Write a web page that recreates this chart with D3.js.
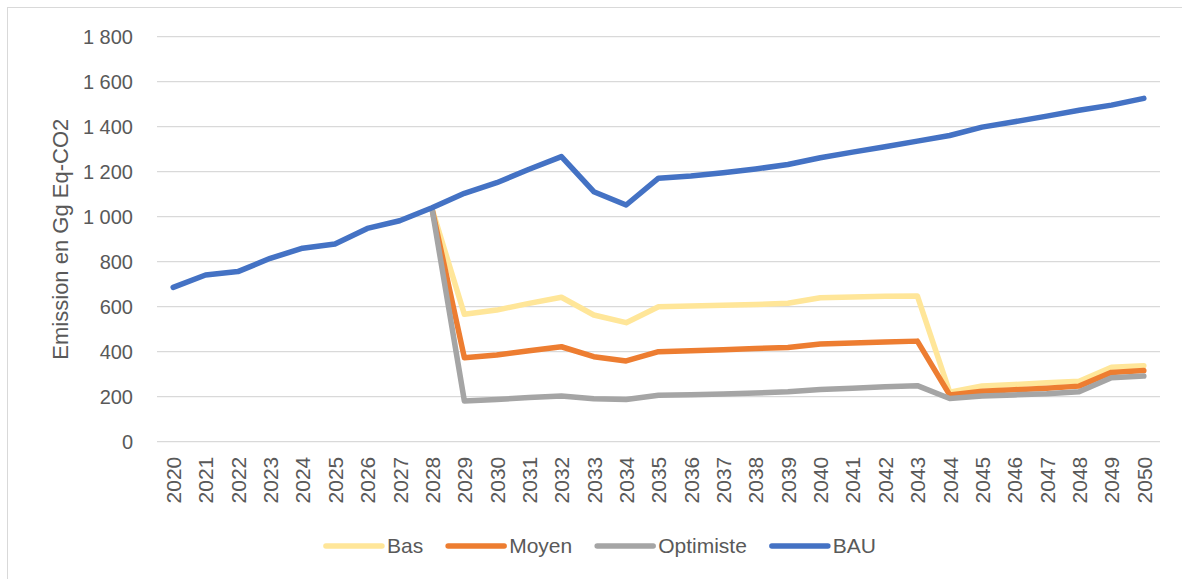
<!DOCTYPE html>
<html>
<head>
<meta charset="utf-8">
<script src="https://cdn.jsdelivr.net/npm/d3@7"></script>
<style>
  html, body { margin: 0; padding: 0; background: #ffffff; }
  svg { display: block; font-family: "Liberation Sans", Arial, sans-serif; }
</style>
</head>
<body>
<svg id="chart" width="1182" height="579"></svg>
<script>
// Emission scenarios, Gg Eq-CO2 per year
const years = d3.range(2020, 2051).map(String);

const bau = [686, 741, 756, 815, 860, 879, 948, 982, 1040, 1104, 1151, 1211, 1267, 1111, 1052,
             1171, 1181, 1195, 1212, 1232, 1262, 1287, 1311, 1336, 1361, 1398, 1422, 1447, 1473, 1496, 1526];

const bas = [null, null, null, null, null, null, null, null, 1035, 566, 585, 615, 642, 563, 529,
             600, 603, 606, 610, 615, 640, 643, 646, 648, 220, 248, 254, 262, 269, 331, 338];

const moyen = [null, null, null, null, null, null, null, null, 1035, 373, 385, 404, 422, 378, 359,
               400, 404, 409, 414, 419, 434, 439, 443, 447, 208, 224, 231, 238, 247, 308, 316];

const optimiste = [null, null, null, null, null, null, null, null, 1035, 181, 188, 196, 203, 191, 188,
                   206, 209, 212, 216, 222, 232, 238, 244, 249, 192, 203, 208, 213, 222, 284, 292];

const yTicks = [0, 200, 400, 600, 800, 1000, 1200, 1400, 1600, 1800];

const seriesNames = ["Bas", "Moyen", "Optimiste", "BAU"];
const seriesValues = [bas, moyen, optimiste, bau];
const seriesColors = ["#FFE699", "#ED7D31", "#A5A5A5", "#4472C4"];

const yTitle = "Emission en Gg Eq-CO2";

// Layout
const svg = d3.select("#chart");
const plot = { left: 157, right: 1160, top: 36.7, bottom: 441.7 };
const textColor = "#595959";
const gridColor = "#D9D9D9";

// Chart frame
svg.append("rect")
  .attr("x", 7.5).attr("y", 7.5)
  .attr("width", 1190).attr("height", 590)
  .attr("fill", "#ffffff")
  .attr("stroke", gridColor).attr("stroke-width", 1);

const x = d3.scalePoint()
  .domain(years)
  .range([plot.left, plot.right])
  .padding(0.5);

const y = d3.scaleLinear()
  .domain([0, 1800])
  .range([plot.bottom, plot.top]);

const fmt = v => d3.format(",")(v).replace(/,/g, "\u00a0");

// Horizontal gridlines
svg.append("g")
  .selectAll("line")
  .data(yTicks)
  .join("line")
  .attr("x1", plot.left).attr("x2", plot.right)
  .attr("y1", d => y(d)).attr("y2", d => y(d))
  .attr("stroke", gridColor).attr("stroke-width", 1.3);

// Y axis labels
const yAxis = svg.append("g")
  .attr("transform", `translate(${plot.left - 24},0)`)
  .call(d3.axisLeft(y).tickValues(yTicks).tickFormat(fmt).tickSize(0).tickPadding(0));
yAxis.select(".domain").remove();
yAxis.selectAll("text")
  .attr("fill", textColor)
  .style("font-size", "20px")
  .attr("dy", "0.35em");

// X axis labels, rotated
const xAxis = svg.append("g")
  .attr("transform", `translate(0,${plot.bottom})`)
  .call(d3.axisBottom(x).tickSize(0).tickPadding(0));
xAxis.select(".domain").remove();
xAxis.selectAll("text")
  .attr("fill", textColor)
  .style("font-size", "21px")
  .attr("text-anchor", "end")
  .attr("transform", "translate(0,15) rotate(-90)")
  .attr("x", 0).attr("y", 0)
  .attr("dy", "0.35em");

// Y axis title
svg.append("text")
  .attr("transform", `translate(60,${(plot.top + plot.bottom) / 2}) rotate(-90)`)
  .attr("text-anchor", "middle")
  .attr("dy", "0.35em")
  .attr("fill", textColor)
  .style("font-size", "22px")
  .text(yTitle);

// Series lines
const line = d3.line()
  .defined(d => d.v !== null)
  .x(d => x(d.year))
  .y(d => y(d.v));

svg.append("g")
  .selectAll("path")
  .data(seriesValues.map((vals, i) => ({
    name: seriesNames[i],
    color: seriesColors[i],
    points: vals.map((v, j) => ({ year: years[j], v }))
  })))
  .join("path")
  .attr("d", d => line(d.points))
  .attr("fill", "none")
  .attr("stroke", d => d.color)
  .attr("stroke-width", 5.5)
  .attr("stroke-linejoin", "round")
  .attr("stroke-linecap", "round");

// Legend
const legend = svg.append("g").attr("transform", "translate(0,546)");
const swatchLen = 56, swatchGap = 5, itemGap = 25;
const items = legend.selectAll("g")
  .data(seriesNames.map((n, i) => ({ name: n, color: seriesColors[i] })))
  .join("g");
items.append("line")
  .attr("x1", 0).attr("x2", swatchLen)
  .attr("y1", 0).attr("y2", 0)
  .attr("stroke", d => d.color)
  .attr("stroke-width", 5.5)
  .attr("stroke-linecap", "round");
items.append("text")
  .attr("x", swatchLen + swatchGap)
  .attr("dy", "0.35em")
  .attr("fill", textColor)
  .style("font-size", "21px")
  .text(d => d.name);

let offset = 0;
const widths = [];
items.each(function () {
  const w = swatchLen + swatchGap + d3.select(this).select("text").node().getComputedTextLength();
  widths.push(w);
});
const total = d3.sum(widths) + itemGap * (widths.length - 1);
let start = 601 - total / 2;
items.attr("transform", (d, i) => {
  const tx = start + offset;
  offset += widths[i] + itemGap;
  return `translate(${tx},0)`;
});
</script>
</body>
</html>
